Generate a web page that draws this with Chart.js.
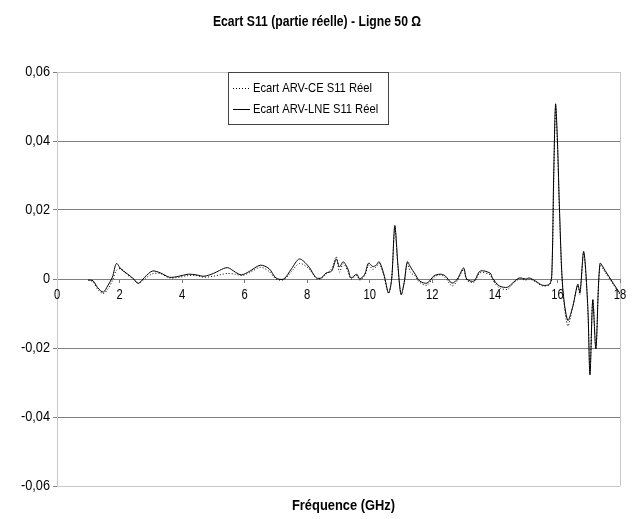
<!DOCTYPE html>
<html>
<head>
<meta charset="utf-8">
<script src="https://cdn.jsdelivr.net/npm/chart.js@4"></script>
<style>
  html, body { margin: 0; padding: 0; background: #fff; }
  #wrap { width: 632px; height: 519px; position: relative; }
</style>
</head>
<body>
<div id="wrap"><canvas id="chart" width="632" height="519"></canvas></div>
<script>
const FONT = "'Liberation Sans', Arial, sans-serif";

const chartTitle = "Ecart S11 (partie réelle) - Ligne 50 \u03A9";
const xTitle = "Fréquence (GHz)";
const seriesNames = ["Ecart ARV-CE S11 Réel", "Ecart ARV-LNE S11 Réel"];

// frequency points (GHz)
const freq = [1.0, 1.15, 1.3, 1.48, 1.62, 1.77, 1.9, 2.05, 2.25, 2.45, 2.6, 2.8, 3.05, 3.3, 3.6, 3.9, 4.2, 4.45, 4.7, 5.0,
  5.2, 5.45, 5.7, 5.9, 6.15, 6.5, 6.78, 7.0, 7.25, 7.5, 7.75, 8.03, 8.2, 8.3, 8.45, 8.6, 8.78, 8.93, 9.03, 9.15,
  9.3, 9.4, 9.58, 9.68, 9.84, 9.96, 10.1, 10.2, 10.3, 10.45, 10.6, 10.7, 10.8, 10.9, 11.0, 11.1, 11.2, 11.3, 11.45, 11.6,
  11.83, 12.05, 12.25, 12.4, 12.63, 12.8, 13.0, 13.1, 13.33, 13.53, 13.85, 13.92, 14.14, 14.4, 14.56, 14.78, 14.98, 15.1, 15.3, 15.52,
  15.75, 15.82, 15.88, 15.94, 16.0, 16.07, 16.17, 16.33, 16.49, 16.65, 16.72, 16.84, 16.97, 17.04, 17.13, 17.23, 17.36, 17.52, 17.78, 18.0];

// Ecart ARV-CE (dotted)
const ecartCE = [-0.0003, -0.0008, -0.003, -0.0042, -0.003, -0.0005, 0.0025, 0.003, 0.0012, 0.0, -0.0012, 0.0, 0.0015, 0.0016, 0.0003, 0.0005, 0.001, 0.001, 0.0005, 0.0008,
  0.0012, 0.0016, 0.0014, 0.001, 0.0018, 0.0034, 0.0022, 0.0, -0.0002, 0.0022, 0.0045, 0.0032, 0.0012, 0.0, 0.0002, 0.0014, 0.003, 0.0065, 0.002, 0.0044,
  0.0022, 0.0, 0.001, -0.0003, 0.001, 0.004, 0.0028, 0.0035, 0.0045, 0.001, -0.0042, 0.0, 0.015, 0.0035, -0.0045, -0.0012, 0.0045, 0.002, 0.0008, -0.001,
  -0.0018, 0.0005, 0.0012, 0.0005, -0.002, -0.0005, 0.0028, -0.0003, -0.001, 0.0018, 0.0012, -0.0002, -0.0025, -0.003, -0.0015, 0.0, -0.0003, 0.0, -0.0008, -0.002,
  -0.0016, 0.001, 0.028, 0.05, 0.039, 0.018, -0.003, -0.0136, -0.008, -0.0018, -0.0045, 0.0075, -0.0085, -0.027, -0.006, -0.02, 0.004, 0.002, -0.0015, -0.0045];

// Ecart ARV-LNE (solid)
const ecartLNE = [-0.0003, -0.0005, -0.0025, -0.0038, -0.002, 0.0005, 0.0045, 0.0028, 0.0015, 0.0, -0.0013, 0.0005, 0.0023, 0.0018, 0.0005, 0.0008, 0.0014, 0.0012, 0.0008, 0.0016,
  0.0025, 0.0033, 0.002, 0.0012, 0.0022, 0.004, 0.003, 0.0003, 0.0, 0.003, 0.0058, 0.0038, 0.0014, 0.0003, 0.0003, 0.0017, 0.0023, 0.0058, 0.0035, 0.005,
  0.0029, 0.0003, 0.0014, 0.0, 0.0014, 0.0046, 0.0036, 0.004, 0.005, 0.0014, -0.004, 0.0, 0.0155, 0.004, -0.0045, -0.001, 0.005, 0.0035, 0.0014, -0.0006,
  -0.0012, 0.0009, 0.0014, 0.001, -0.0012, 0.0, 0.0032, 0.0, -0.0006, 0.0023, 0.0017, 0.0003, -0.002, -0.0024, -0.0012, 0.0003, 0.0, 0.0003, -0.0006, -0.0018,
  -0.0015, 0.0014, 0.03, 0.0507, 0.04, 0.019, -0.0026, -0.012, -0.008, -0.0015, -0.004, 0.008, -0.008, -0.0278, -0.006, -0.0202, 0.0045, 0.0025, -0.0012, -0.0042];

const xMin = 0, xMax = 18, xStep = 2;
const yMin = -0.06, yMax = 0.06, yStep = 0.02;

function toPoints(ys) {
    return freq.map((f, i) => ({ x: f, y: ys[i] }));
}

function fmtY(v) {
    if (Math.abs(v) < 1e-9) return '0';
    return v.toFixed(2).replace('.', ',');
}

// narrow text, like Arial Narrow: squeeze horizontally
function narrowText(ctx, text, x, y, size, bold, align, squeeze) {
    ctx.save();
    ctx.font = `${bold ? 'bold ' : ''}${size}px ${FONT}`;
    ctx.textAlign = align;
    ctx.textBaseline = 'middle';
    ctx.fillStyle = '#000';
    ctx.translate(x, y);
    ctx.scale(squeeze, 1);
    ctx.fillText(text, 0, 0);
    ctx.restore();
}

const decor = {
    id: 'decor',
    afterDraw(chart) {
        const { ctx, chartArea: a } = chart;
        const xs = chart.scales.x, ys = chart.scales.y;

        narrowText(ctx, chartTitle, 317, 22, 14, true, 'center', 0.87);
        narrowText(ctx, xTitle, (a.left + a.right) / 2 + 5, 506, 14, true, 'center', 0.92);

        // tick labels
        ys.ticks.forEach(t => {
            narrowText(ctx, fmtY(t.value), a.left - 7, ys.getPixelForValue(t.value), 15, false, 'right', 0.85);
        });
        const y0 = ys.getPixelForValue(0);
        xs.ticks.forEach(t => {
            narrowText(ctx, String(t.value), xs.getPixelForValue(t.value), y0 + 16, 14, false, 'center', 0.8);
        });

        // legend box
        const lx = 228, ly = 72, lw = 160, lh = 52;
        ctx.save();
        ctx.fillStyle = '#fff';
        ctx.fillRect(lx, ly, lw, lh);
        ctx.strokeStyle = '#444';
        ctx.lineWidth = 1;
        ctx.strokeRect(lx + 0.5, ly + 0.5, lw, lh);
        chart.data.datasets.forEach((ds, i) => {
            const yy = ly + 16 + i * 21;
            ctx.beginPath();
            ctx.setLineDash(ds.borderDash || []);
            ctx.strokeStyle = ds.borderColor;
            ctx.moveTo(lx + 5, yy + 0.5);
            ctx.lineTo(lx + 22, yy + 0.5);
            ctx.stroke();
            ctx.setLineDash([]);
            narrowText(ctx, ds.label, lx + 25, yy, 13, false, 'left', 0.86);
        });
        ctx.restore();
    }
};

const ctx = document.getElementById('chart').getContext('2d');
new Chart(ctx, {
    type: 'line',
    data: {
        datasets: [{
            label: seriesNames[0],
            data: toPoints(ecartCE),
            borderColor: '#000',
            borderWidth: 1,
            borderDash: [1, 2],
            pointRadius: 0,
            tension: 0.3,
            fill: false
        }, {
            label: seriesNames[1],
            data: toPoints(ecartLNE),
            borderColor: '#000',
            borderWidth: 1,
            pointRadius: 0,
            tension: 0.3,
            fill: false
        }]
    },
    options: {
        responsive: false,
        animation: false,
        layout: { padding: { top: 72, left: 0, right: 12, bottom: 33 } },
        plugins: {
            legend: { display: false },
            title: { display: false },
            tooltip: { enabled: false }
        },
        scales: {
            x: {
                type: 'linear',
                position: { y: 0 },
                min: xMin,
                max: xMax,
                afterFit: (scale) => { scale.height = 0; },
                grid: {
                    color: (c) => (c.tick && c.tick.value === xMax) ? '#c8c8c8' : 'rgba(0,0,0,0)',
                    tickColor: '#777',
                    tickLength: 4
                },
                border: { display: false },
                ticks: { stepSize: xStep, display: false }
            },
            y: {
                min: yMin,
                max: yMax,
                afterFit: (scale) => { scale.width = 57; },
                grid: {
                    color: (c) => (c.tick && (Math.abs(c.tick.value - yMax) < 1e-9 || Math.abs(c.tick.value - yMin) < 1e-9)) ? '#c8c8c8' : '#808080',
                    tickColor: '#808080',
                    tickLength: 4
                },
                border: { color: '#c8c8c8' },
                ticks: { stepSize: yStep, display: false }
            }
        }
    },
    plugins: [decor]
});
</script>
</body>
</html>
